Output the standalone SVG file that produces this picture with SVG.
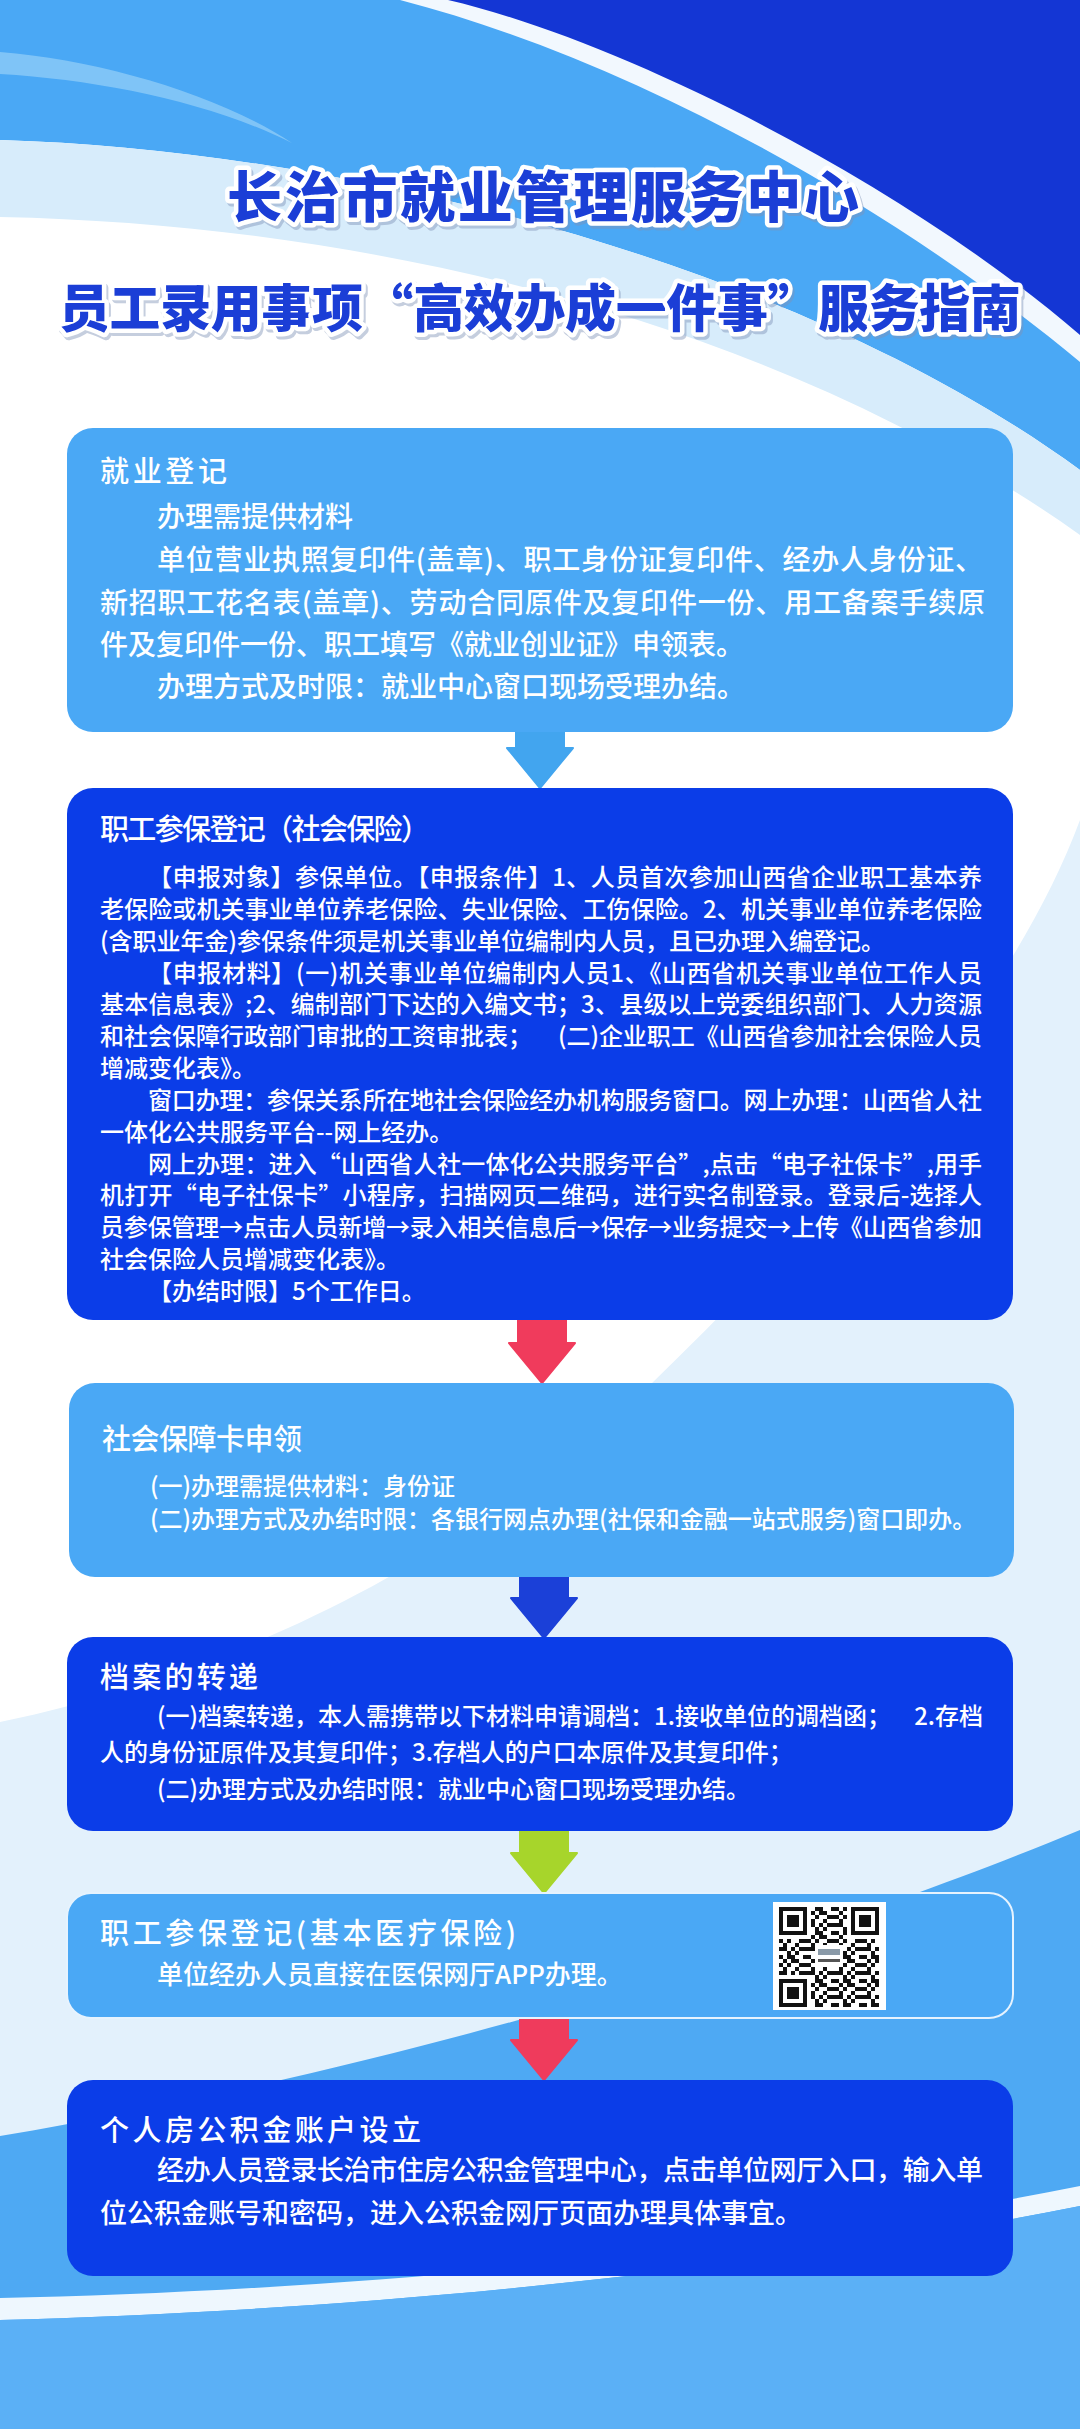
<svg xmlns="http://www.w3.org/2000/svg" width="1080" height="2429" viewBox="0 0 1080 2429">
<style>
.lb{fill:#4aa8f5}
.db{fill:#0b3de8}
.t{font-family:"Noto Sans CJK SC","Noto Sans",sans-serif;fill:#ffffff;font-weight:500}
.h{font-size:29px}
.s24{font-size:24px}
.s26{font-size:26px}
.s27{font-size:27px}
.s28{font-size:28px}
.title{font-family:"Noto Sans CJK SC","Noto Sans",sans-serif;font-weight:900;fill:#1b3ed6;stroke:#ffffff;stroke-width:9;stroke-linejoin:round;paint-order:stroke}
.shadow{font-family:"Noto Sans CJK SC","Noto Sans",sans-serif;font-weight:900;fill:#7f93b8;stroke:#7f93b8;stroke-width:9;stroke-linejoin:round;opacity:0.45}
</style>
<defs>
<pattern id="qrp" patternUnits="userSpaceOnUse" x="779" y="1907" width="28" height="24">
<path fill="#111" d="M0,0h4v4h-4zM8,0h8v4h-8zM24,0h4v4h-4zM4,4h4v4h-4zM12,4h8v4h-8zM0,8h4v4h-4zM8,8h4v4h-4zM20,8h8v4h-8zM4,12h4v4h-4zM16,12h4v4h-4zM0,16h8v4h-8zM12,16h4v4h-4zM20,16h8v4h-8zM8,20h4v4h-4zM16,20h4v4h-4z"/>
</pattern>
</defs>

<g id="background">
<rect x="0" y="0" width="1080" height="2429" fill="#ffffff"/>
<path d="M0,0H1080V470C800,265 350,150 0,140Z" fill="#4aa8f5"/>
<path d="M0,140C350,150 800,265 1080,470V535C800,335 400,225 0,217Z" fill="#d7ecfb"/>
<path d="M0,52C100,60 220,95 292,143C210,102 100,80 0,74Z" fill="#8ccaf8" opacity="0.8"/>
<path d="M400,0H1080V362C900,212 640,62 400,0Z" fill="#f2f8fe"/>
<path d="M448,0H1080V335C900,180 620,40 448,0Z" fill="#1436d4"/>
<path d="M1080,820C1010,1010 820,1220 650,1385C520,1510 300,1660 0,1722V2429H1080Z" fill="#e3f1fc"/>
<path d="M1080,1830C850,1925 450,2060 0,2136V2429H1080Z" fill="#4ea9f3"/>
<path d="M0,2298C300,2292 700,2262 1080,2186V2206C700,2282 300,2312 0,2320Z" fill="#eef7fe"/>
<path d="M0,2320C300,2312 700,2282 1080,2206V2429H0Z" fill="#5bb0f6"/>
</g>

<g id="title">
<text class="shadow" x="229" y="220" font-size="55" textLength="632">长治市就业管理服务中心</text>
<text class="title" x="227" y="217" font-size="55" textLength="632">长治市就业管理服务中心</text>
<text class="shadow" x="61" y="330" font-size="51" textLength="962">员工录用事项“高效办成一件事”服务指南</text>
<text class="title" x="59" y="327" font-size="51" textLength="962">员工录用事项“高效办成一件事”服务指南</text>
</g>

<g id="connectors">
<path d="M516,728H564V748H573L540,788L507,748H516Z" fill="#42a5ef" stroke="#42a5ef" stroke-width="2" stroke-linejoin="round"/>
<path d="M518,1318H566V1343H575L542,1383L509,1343H518Z" fill="#f03b5c" stroke="#f03b5c" stroke-width="2" stroke-linejoin="round"/>
<path d="M520,1575H568V1598H577L544,1638L511,1598H520Z" fill="#1b40d8" stroke="#1b40d8" stroke-width="2" stroke-linejoin="round"/>
<path d="M520,1829H568V1853H577L544,1893L511,1853H520Z" fill="#a7d52b" stroke="#a7d52b" stroke-width="2" stroke-linejoin="round"/>
<path d="M520,2016H568V2040H577L544,2080L511,2040H520Z" fill="#ef3b5c" stroke="#ef3b5c" stroke-width="2" stroke-linejoin="round"/>
</g>

<g id="node-1">
<rect class="lb" x="67" y="428" width="946" height="304" rx="26"/>
<text class="t h" x="100" y="482" textLength="127">就业登记</text>
<text class="t s28" x="157" y="527">办理需提供材料</text>
<text class="t s28" x="157" y="570" textLength="826">单位营业执照复印件(盖章)、职工身份证复印件、经办人身份证、</text>
<text class="t s28" x="100" y="613" textLength="885">新招职工花名表(盖章)、劳动合同原件及复印件一份、用工备案手续原</text>
<text class="t s28" x="100" y="655">件及复印件一份、职工填写《就业创业证》申领表。</text>
<text class="t s28" x="157" y="697">办理方式及时限：就业中心窗口现场受理办结。</text>
</g>

<g id="node-2">
<rect class="db" x="67" y="788" width="946" height="532" rx="26"/>
<text class="t h" x="100" y="840" textLength="330">职工参保登记（社会保险）</text>
<text class="t s24" x="148" y="886" textLength="834">【申报对象】参保单位。【申报条件】1、人员首次参加山西省企业职工基本养</text>
<text class="t s24" x="100" y="918" textLength="882">老保险或机关事业单位养老保险、失业保险、工伤保险。2、机关事业单位养老保险</text>
<text class="t s24" x="100" y="950">(含职业年金)参保条件须是机关事业单位编制内人员，且已办理入编登记。</text>
<text class="t s24" x="148" y="982" textLength="834">【申报材料】(一)机关事业单位编制内人员1、《山西省机关事业单位工作人员</text>
<text class="t s24" x="100" y="1013" textLength="882">基本信息表》;2、编制部门下达的入编文书；3、县级以上党委组织部门、人力资源</text>
<text class="t s24" x="100" y="1045">和社会保障行政部门审批的工资审批表；</text>
<text class="t s24" x="558" y="1045" textLength="424">(二)企业职工《山西省参加社会保险人员</text>
<text class="t s24" x="100" y="1077">增减变化表》。</text>
<text class="t s24" x="148" y="1109" textLength="834">窗口办理：参保关系所在地社会保险经办机构服务窗口。网上办理：山西省人社</text>
<text class="t s24" x="100" y="1141">一体化公共服务平台--网上经办。</text>
<text class="t s24" x="148" y="1173" textLength="834">网上办理：进入“山西省人社一体化公共服务平台”,点击“电子社保卡”,用手</text>
<text class="t s24" x="100" y="1204" textLength="882">机打开“电子社保卡”小程序，扫描网页二维码，进行实名制登录。登录后-选择人</text>
<text class="t s24" x="100" y="1236" textLength="882">员参保管理→点击人员新增→录入相关信息后→保存→业务提交→上传《山西省参加</text>
<text class="t s24" x="100" y="1268">社会保险人员增减变化表》。</text>
<text class="t s24" x="148" y="1300">【办结时限】5个工作日。</text>
</g>

<g id="node-3">
<rect class="lb" x="69" y="1383" width="945" height="194" rx="26"/>
<text class="t h" x="102" y="1450" textLength="200">社会保障卡申领</text>
<text class="t s24" x="150" y="1495">(一)办理需提供材料：身份证</text>
<text class="t s24" x="150" y="1528">(二)办理方式及办结时限：各银行网点办理(社保和金融一站式服务)窗口即办。</text>
</g>

<g id="node-4">
<rect class="db" x="67" y="1637" width="946" height="194" rx="26"/>
<text class="t h" x="100" y="1688" textLength="158">档案的转递</text>
<text class="t s24" x="157" y="1725">(一)档案转递，本人需携带以下材料申请调档：1.接收单位的调档函；</text>
<text class="t s24" x="983" y="1725" text-anchor="end">2.存档</text>
<text class="t s24" x="100" y="1761">人的身份证原件及其复印件；3.存档人的户口本原件及其复印件；</text>
<text class="t s24" x="157" y="1798">(二)办理方式及办结时限：就业中心窗口现场受理办结。</text>
</g>

<g id="node-5">
<rect class="lb" x="67" y="1893" width="946" height="125" rx="24" stroke="#e6f3fe" stroke-width="2"/>
<text class="t h" x="100" y="1944" textLength="416">职工参保登记(基本医疗保险)</text>
<text class="t s26" x="157" y="1984">单位经办人员直接在医保网厅APP办理。</text>
<g id="qr">
<rect x="773" y="1902" width="113" height="108" fill="#ffffff"/>
<rect x="779" y="1907" width="100" height="100" fill="url(#qrp)"/>
<rect x="779" y="1907" width="32" height="32" fill="#ffffff"/>
<rect x="847" y="1907" width="32" height="32" fill="#ffffff"/>
<rect x="779" y="1975" width="32" height="32" fill="#ffffff"/>
<path fill="#111" fill-rule="evenodd" d="M779,1907h28v28h-28zM783,1911v20h20v-20zM787,1915h12v12h-12zM851,1907h28v28h-28zM855,1911v20h20v-20zM859,1915h12v12h-12zM779,1979h28v28h-28zM783,1983v20h20v-20zM787,1987h12v12h-12z"/>
<rect x="815" y="1945" width="28" height="22" fill="#ffffff"/>
<rect x="818" y="1949" width="22" height="6" fill="#8a9aa8"/>
<rect x="818" y="1959" width="22" height="3" fill="#555555"/>
</g>
</g>

<g id="node-6">
<rect class="db" x="67" y="2080" width="946" height="196" rx="26"/>
<text class="t h" x="100" y="2141" textLength="321">个人房公积金账户设立</text>
<text class="t s27" x="157" y="2180" textLength="826">经办人员登录长治市住房公积金管理中心，点击单位网厅入口，输入单</text>
<text class="t s27" x="100" y="2223">位公积金账号和密码，进入公积金网厅页面办理具体事宜。</text>
</g>
</svg>
